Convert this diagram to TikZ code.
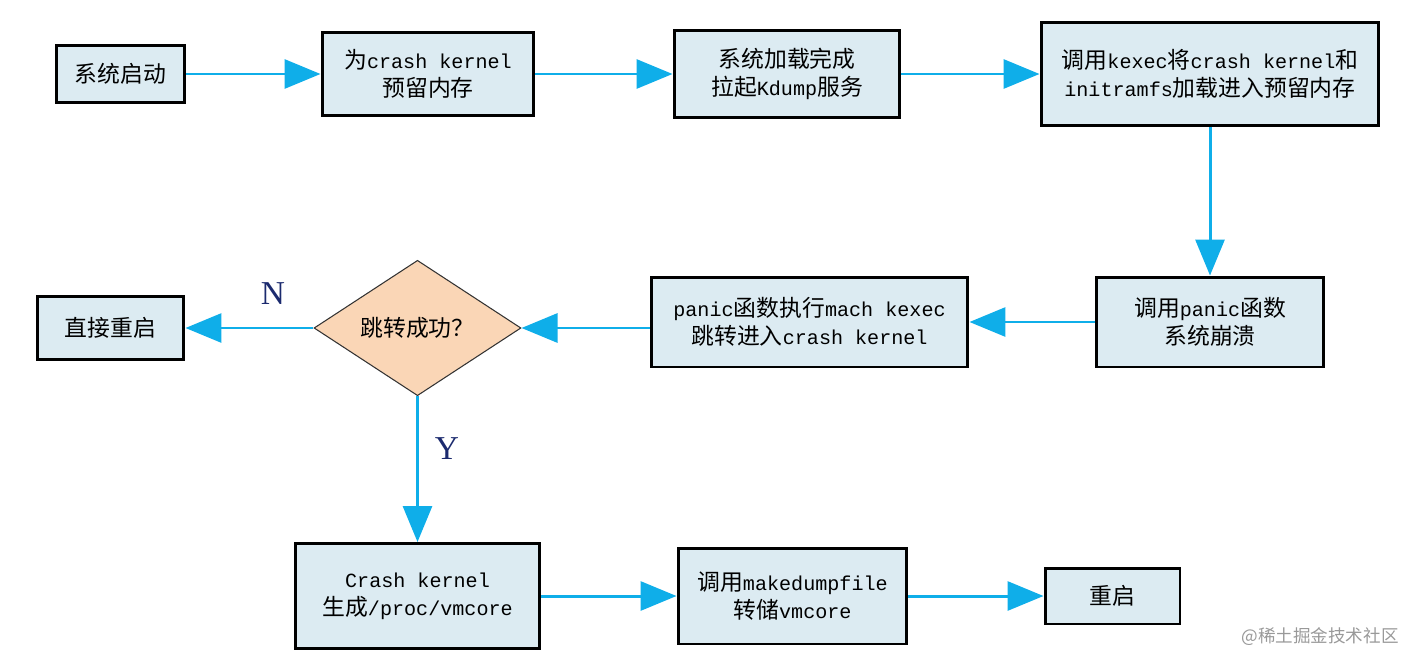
\documentclass[tikz,border=0pt]{standalone}
\usepackage{fontspec}
\setmainfont{Liberation Mono}[Scale=0.88]
\newfontfamily\cjk{Noto Sans CJK SC}
\newfontfamily\yn{Liberation Serif}
\usetikzlibrary{arrows.meta,shapes.geometric}
\definecolor{boxfill}{HTML}{DCEBF2}
\definecolor{flowblue}{HTML}{0FAEE9}
\definecolor{decfill}{HTML}{FAD6B6}
\definecolor{ynblue}{HTML}{1B2A6E}
\tikzset{stepbox/.style={rectangle,draw=black,line width=1.7pt,fill=boxfill,align=center,inner sep=0pt,font=\fontsize{13}{16}\selectfont}}
\tikzset{decide/.style={diamond,draw=black!80,line width=0.6pt,fill=decfill,inner sep=0pt,font=\fontsize{13}{16}\selectfont}}
\tikzset{flow/.style={draw=flowblue,line width=1.7pt,-{Triangle[length=0.72cm,width=0.58cm]}}}
\tikzset{yn/.style={text=ynblue,font=\yn\fontsize{19}{19}\selectfont}}

\begin{document}
\begin{tikzpicture}[x=0.02cm,y=-0.02cm]
      \useasboundingbox (0,0) rectangle (1419,666);
      % top row
      \node[stepbox,minimum width=2.58cm,minimum height=1.14cm] (boot) at (120.5,74) {{\cjk 系统启动}};
      \node[stepbox,minimum width=4.24cm,minimum height=1.68cm] (reserve) at (428,74) {{\cjk 为}crash kernel\\{\cjk 预留内存}};
      \node[stepbox,minimum width=4.52cm,minimum height=1.74cm] (kdump) at (787,74) {{\cjk 系统加载完成}\\{\cjk 拉起}Kdump{\cjk 服务}};
      \node[stepbox,minimum width=6.76cm,minimum height=2.06cm] (load) at (1210,74) {{\cjk 调用}kexec{\cjk 将}crash kernel{\cjk 和}\\initramfs{\cjk 加载进入预留内存}};
      % middle row
      \node[stepbox,minimum width=4.54cm,minimum height=1.8cm] (panic) at (1210,322) {{\cjk 调用}panic{\cjk 函数}\\{\cjk 系统崩溃}};
      \node[stepbox,minimum width=6.34cm,minimum height=1.8cm] (jump) at (809.5,322) {panic{\cjk 函数执行}mach kexec\\{\cjk 跳转进入}crash kernel};
      \node[decide,minimum width=4.14cm,minimum height=2.48cm] (ok) at (417.5,328) {{\cjk 跳转成功？}};
      \node[stepbox,minimum width=2.94cm,minimum height=1.26cm] (reboot1) at (110.5,328) {{\cjk 直接重启}};
      % bottom row
      \node[stepbox,minimum width=4.9cm,minimum height=2.1cm] (vmcore) at (417.5,596) {Crash kernel\\{\cjk 生成}/proc/vmcore};
      \node[stepbox,minimum width=4.58cm,minimum height=1.92cm] (dump) at (792.5,596) {{\cjk 调用}makedumpfile\\{\cjk 转储}vmcore};
      \node[stepbox,minimum width=2.7cm,minimum height=1.12cm] (reboot2) at (1112.5,596) {{\cjk 重启}};

      \node[yn] (nlabel) at (273,294) {N};
      \node[yn] (ylabel) at (447,449) {Y};
      \node[text=black!40,font=\cjk\fontsize{10}{10}\selectfont] (mark) at (1320,637) {@稀土掘金技术社区};

      \foreach \a/\b in {boot/reserve,reserve/kdump,kdump/load,load/panic,panic/jump,ok/reboot1,vmcore/dump,dump/reboot2}
        \draw[flow] (\a) -- (\b);
      \draw[flow] (jump.west |- ok) -- (ok.east);
      \draw[flow] (ok.south) -- (vmcore.north);
    \end{tikzpicture}
\end{document}
